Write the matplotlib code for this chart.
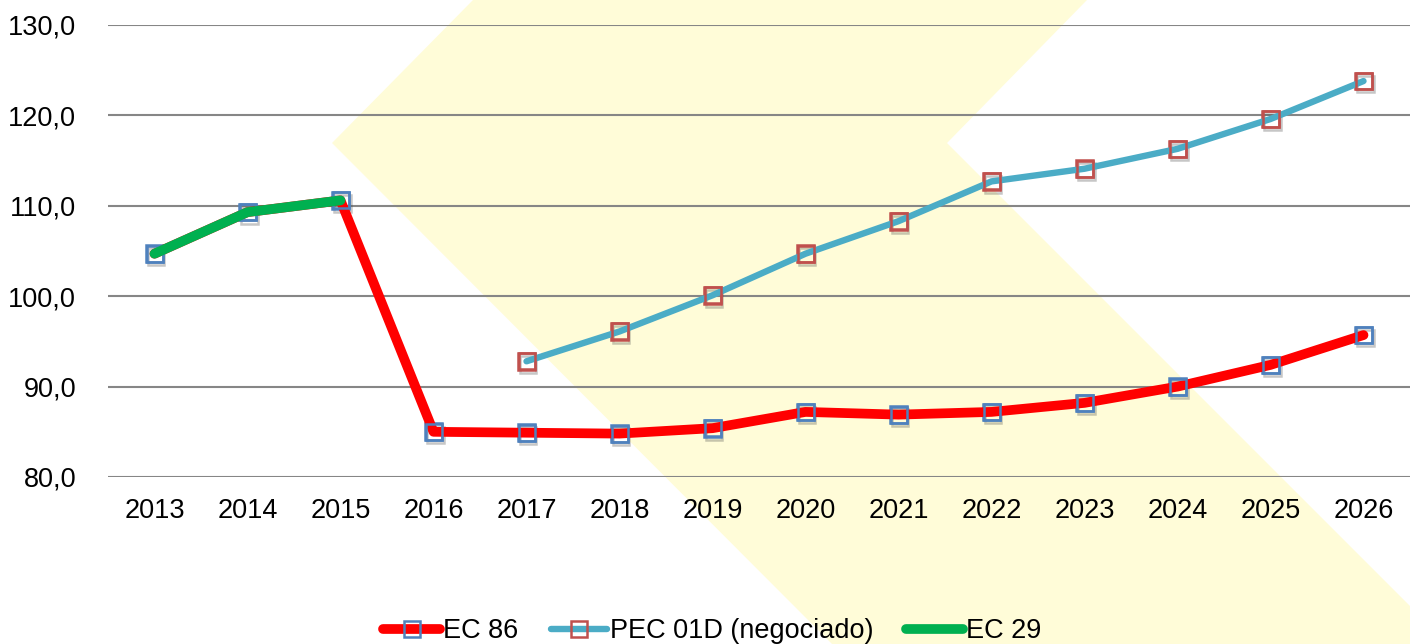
import matplotlib
matplotlib.use("Agg")
import matplotlib.pyplot as plt
import matplotlib.patheffects as pe
from matplotlib.patches import Polygon
import numpy as np

plt.rcParams['font.family'] = ['Liberation Sans', 'DejaVu Sans']

years = ['2013', '2014', '2015', '2016', '2017', '2018', '2019',
         '2020', '2021', '2022', '2023', '2024', '2025', '2026']
ec86 = [104.7, 109.3, 110.6, 85.0, 84.9, 84.8, 85.4,
        87.2, 86.9, 87.2, 88.2, 90.0, 92.4, 95.7]
pec01d = [np.nan, np.nan, np.nan, np.nan, 92.8, 96.1, 100.1,
          104.7, 108.3, 112.7, 114.1, 116.3, 119.6, 123.8]
ec29 = [104.7, 109.3, 110.6] + [np.nan] * 11
yticks = [80, 90, 100, 110, 120, 130]

fig = plt.figure(figsize=(14.1, 6.44), dpi=100)

# pale yellow chevron watermark behind the chart (pixel coords of the figure)
W, H = 1410.0, 644.0
chev = [(473, 0), (1087, 0), (947, 143), (1448, 644), (832, 644), (332, 143)]
fig.patches.append(Polygon([(x / W, 1 - y / H) for x, y in chev], closed=True,
                           transform=fig.transFigure, facecolor='#FFFCD8',
                           edgecolor='none', zorder=0))

ax = fig.add_axes([108 / W, 1 - 477 / H, 1 - 108 / W, (477 - 25) / H])
ax.patch.set_alpha(0)
ax.set_zorder(2)

x = np.arange(len(years))

shadow = [pe.SimpleLineShadow(offset=(1.2, -2.2), shadow_color='#444444', alpha=0.3),
          pe.Normal()]

l1, = ax.plot(x, ec86, color='#FF0000', lw=7, solid_capstyle='round',
              solid_joinstyle='round', marker='s', ms=12, mfc='none',
              mec='#4F81BD', mew=1.8, label='EC 86', zorder=3)
l2, = ax.plot(x, pec01d, color='#4BACC6', lw=4.6, solid_capstyle='round',
              solid_joinstyle='round', marker='s', ms=12, mfc='none',
              mec='#C0504D', mew=1.8, label='PEC 01D (negociado)', zorder=4)
l3, = ax.plot(x, ec29, color='#00B050', lw=7, solid_capstyle='round',
              solid_joinstyle='round', label='EC 29', zorder=5)

# soft marker shadows
for ys, c in [(ec86, '#4F81BD'), (pec01d, '#C0504D')]:
    ax.plot(x, ys, ls='none', marker='s', ms=12, mfc='none', mec=c,
            mew=1.8, path_effects=shadow, zorder=2.5)

ax.set_xlim(-0.5, len(years) - 0.5)
ax.set_ylim(80, 130)
ax.set_yticks(yticks)
ax.set_yticklabels([f'{v:.1f}'.replace('.', ',') for v in yticks])
ax.set_xticks(x)
ax.set_xticklabels(years)
ax.grid(axis='y', color='#868686', lw=1.5)
ax.set_axisbelow(True)
for s in ax.spines.values():
    s.set_visible(False)
ax.tick_params(length=0, labelsize=19.5)
ax.tick_params(axis='y', pad=23)
ax.tick_params(axis='x', pad=15)

fig.legend(handles=[l1, l2, l3], loc='lower center', bbox_to_anchor=(0.505, -0.038),
           ncol=3, frameon=False, fontsize=19.5, handlelength=2.1,
           handletextpad=0.1, columnspacing=1.2, numpoints=1)

plt.savefig('out.png', dpi=100)
